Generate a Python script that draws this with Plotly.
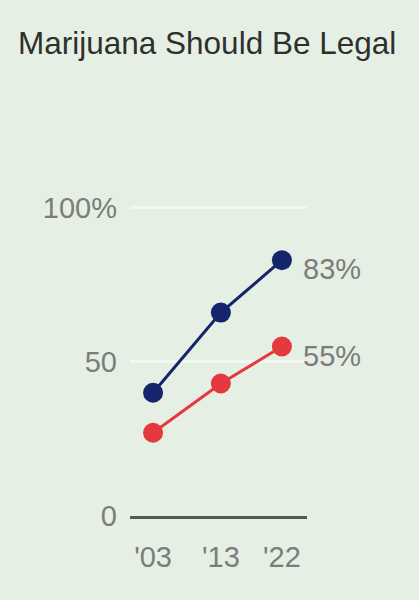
import plotly.graph_objects as go

# survey years and share (%) saying marijuana should be legal
years = [2003, 2013, 2022]
year_labels = ["'03", "'13", "'22"]
navy_vals = [40, 66, 83]
red_vals = [27, 43, 55]

y_ticks = [0, 50, 100]
y_tick_labels = ["0", "50", "100%"]

NAVY = "#14256b"
RED = "#e4393f"
GREY = "#7b7d7b"
BG = "#e6efe4"
FONT = "Liberation Sans"

fig = go.Figure()
for vals, col in [(navy_vals, NAVY), (red_vals, RED)]:
    fig.add_trace(go.Scatter(
        x=years, y=vals, mode="lines+markers",
        line=dict(color=col, width=3),
        marker=dict(color=col, size=20),
        cliponaxis=False, showlegend=False, hoverinfo="skip",
    ))
    fig.add_annotation(
        x=years[-1], y=vals[-1], text=f"{vals[-1]}%",
        showarrow=False, xanchor="left", yanchor="middle",
        xshift=19, yshift=-9,
        font=dict(family=FONT, size=29, color=GREY),
    )

fig.update_layout(
    width=419, height=600,
    paper_bgcolor=BG, plot_bgcolor=BG,
    margin=dict(l=130, r=112, t=177, b=84),
    font=dict(family=FONT, color=GREY),
    title=dict(
        text="Marijuana Should Be Legal",
        x=18 / 419, xref="container", xanchor="left",
        y=1 - 43 / 600, yref="container", yanchor="middle",
        font=dict(family=FONT, size=31.5, color="#2e302e"),
    ),
)
fig.update_xaxes(
    range=[1999.6, 2025.7], tickvals=years, ticktext=year_labels,
    showgrid=False, zeroline=False,
    showline=True, linecolor="#555955", linewidth=2.5,
    ticks="", ticklabelstandoff=13,
    tickfont=dict(family=FONT, size=29, color=GREY),
)
fig.update_yaxes(
    range=[0, 110], tickvals=y_ticks, ticktext=y_tick_labels,
    showgrid=True, gridcolor="#f2f7f1", gridwidth=3, zeroline=False,
    ticks="", ticklabelstandoff=12,
    tickfont=dict(family=FONT, size=29, color=GREY),
)

# drop the page's default body margin so the figure fills the window
fig.write_html(
    "out.html",
    config={"displayModeBar": False},
    post_script="document.body.style.margin='0';",
)
